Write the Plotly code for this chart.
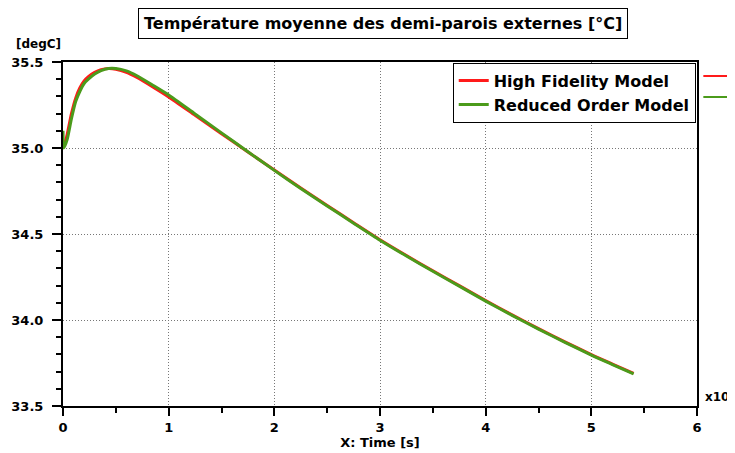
import plotly.graph_objects as go

# valeurs
temps_hf = [0.02, 0.04, 0.08, 0.12, 0.16, 0.20, 0.24, 0.30, 0.36, 0.43, 0.50, 0.60, 0.70, 0.85,
            1.0, 1.25, 1.5, 1.75, 2.0, 2.25, 2.5, 2.75, 3.0, 3.25, 3.5, 3.75, 4.0, 4.25, 4.5,
            4.75, 5.0, 5.2, 5.4]
temp_hf = [35.03, 35.08, 35.20, 35.29, 35.35, 35.39, 35.415, 35.44, 35.455, 35.462, 35.458, 35.44,
           35.41, 35.355, 35.297, 35.19, 35.083, 34.977, 34.872, 34.768, 34.666, 34.566, 34.467,
           34.375, 34.286, 34.200, 34.113, 34.030, 33.950, 33.873, 33.799, 33.744, 33.69]

temps_rom = [0.0, 0.008, 0.04, 0.08, 0.12, 0.16, 0.20, 0.24, 0.30, 0.36, 0.43, 0.50, 0.60, 0.70, 0.85,
             1.0, 1.25, 1.5, 1.75, 2.0, 2.25, 2.5, 2.75, 3.0, 3.25, 3.5, 3.75, 4.0, 4.25, 4.5,
             4.75, 5.0, 5.2, 5.4]
temp_rom = [35.10, 35.0, 35.05, 35.17, 35.27, 35.33, 35.375, 35.40, 35.43, 35.45, 35.462, 35.462,
            35.448, 35.42, 35.365, 35.308, 35.198, 35.088, 34.978, 34.87, 34.765, 34.663, 34.563,
            34.464, 34.372, 34.283, 34.197, 34.110, 34.027, 33.947, 33.870, 33.796, 33.741, 33.687]

police = "DejaVu Sans"
rouge = "#ff1a1a"
vert = "#4b9b1b"
gras = dict(family=police, size=13, weight="bold", color="black")

fig = go.Figure()
fig.add_trace(go.Scatter(x=temps_hf, y=temp_hf, mode="lines", name="High Fidelity Model",
                         line=dict(color=rouge, width=3, shape="spline", smoothing=0.6)))
fig.add_trace(go.Scatter(x=temps_rom, y=temp_rom, mode="lines", name="Reduced Order Model",
                         line=dict(color=vert, width=3, shape="spline", smoothing=0.6)))

# la page html ajoute 8px de marge au body : on compense dans les marges
fig.update_layout(
    width=735, height=453,
    margin=dict(l=55, r=46, t=54, b=55),
    plot_bgcolor="white", paper_bgcolor="white",
    font=dict(family=police, size=13, color="black"),
    showlegend=True,
    legend=dict(x=0.998, y=0.998, xanchor="right", yanchor="top",
                bordercolor="black", borderwidth=1, bgcolor="white",
                font=dict(size=16, family=police, weight="bold"), tracegroupgap=0,
                itemwidth=30),
)

fig.update_xaxes(
    range=[0, 6], dtick=1, tickformat="d", automargin=False,
    showline=True, mirror=True, linewidth=2, linecolor="black",
    ticks="outside", ticklen=8, tickwidth=1.5, tickcolor="black",
    showgrid=True, gridcolor="#777777", griddash="1px,2px", gridwidth=1,
    zeroline=False,
    tickfont=gras,
    title=dict(text="X: Time [s]", font=gras, standoff=1),
    minor=dict(dtick=0.5, ticks="outside", ticklen=5, tickcolor="black", showgrid=False),
)
fig.update_yaxes(
    range=[33.5, 35.5], dtick=0.5, tickformat=".1f", automargin=False,
    showline=True, mirror=True, linewidth=2, linecolor="black",
    ticks="outside", ticklen=9, tickwidth=1.5, tickcolor="black",
    showgrid=True, gridcolor="#777777", griddash="1px,2px", gridwidth=1,
    zeroline=False,
    tickfont=gras, ticklabelstandoff=6,
    minor=dict(dtick=0.1, ticks="outside", ticklen=5, tickcolor="black", showgrid=False),
)

# titre encadre
fig.add_annotation(text="Température moyenne des demi-parois externes [°C]",
                   xref="paper", yref="paper", x=0.5055, y=1.112, yanchor="middle",
                   showarrow=False, font=dict(size=16, family=police, weight="bold"),
                   bordercolor="black", borderwidth=1, borderpad=5, bgcolor="white")
fig.add_annotation(text="[degC]", xref="paper", yref="paper", x=-0.0773, y=1.052,
                   xanchor="left", yanchor="middle", showarrow=False,
                   font=dict(size=12, family=police, weight="bold"))
fig.add_annotation(text="x10", xref="paper", yref="paper", x=1.0095, y=0.026,
                   xanchor="left", yanchor="middle", showarrow=False,
                   font=dict(size=12, family=police, weight="bold"))

# fragments de la seconde legende coupee a droite
fig.add_shape(type="line", xref="paper", yref="paper", x0=1.01, x1=1.07, y0=0.959, y1=0.959,
              line=dict(color=rouge, width=2))
fig.add_shape(type="line", xref="paper", yref="paper", x0=1.01, x1=1.07, y0=0.898, y1=0.898,
              line=dict(color=vert, width=2))

fig.write_html("out.html")
